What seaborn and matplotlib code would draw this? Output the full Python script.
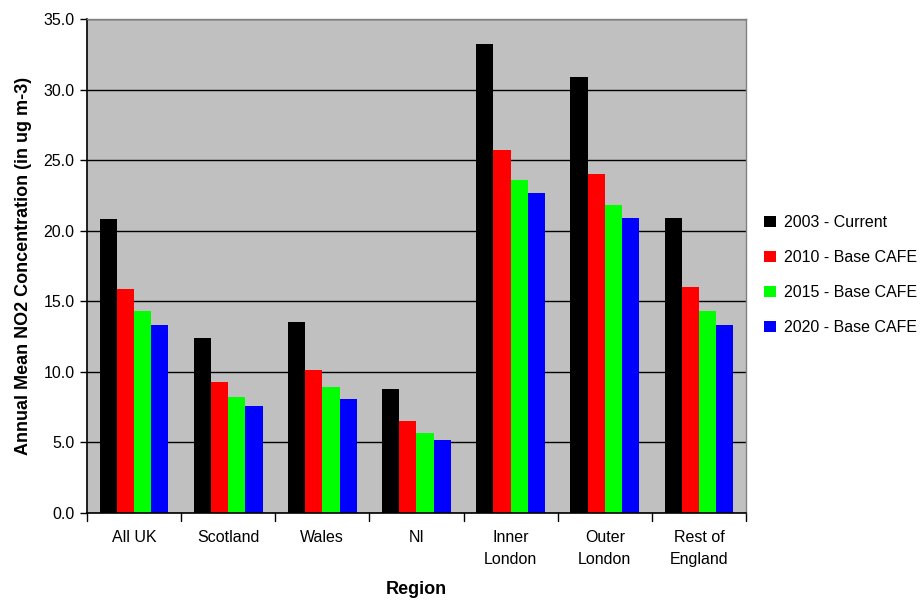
import matplotlib
matplotlib.use("Agg")
import matplotlib.pyplot as plt
import seaborn as sns
import pandas as pd
from matplotlib.patches import Patch

regions = ["All UK", "Scotland", "Wales", "NI", "Inner\nLondon", "Outer\nLondon", "Rest of\nEngland"]
series = ["2003 - Current", "2010 - Base CAFE", "2015 - Base CAFE", "2020 - Base CAFE"]
v2003 = [20.8, 12.4, 13.5, 8.8, 33.2, 30.9, 20.9]
v2010 = [15.9, 9.3, 10.1, 6.5, 25.7, 24.0, 16.0]
v2015 = [14.3, 8.2, 8.9, 5.7, 23.6, 21.8, 14.3]
v2020 = [13.3, 7.6, 8.1, 5.2, 22.7, 20.9, 13.3]
colors = ["#000000", "#FF0000", "#00FF00", "#0000FF"]

rows = []
for s, vals in zip(series, [v2003, v2010, v2015, v2020]):
    for r, v in zip(regions, vals):
        rows.append({"Region": r, "Series": s, "Value": v})
df = pd.DataFrame(rows)

sns.set_theme(style="white")
plt.rcParams["font.family"] = ["Liberation Sans", "DejaVu Sans"]
plt.rcParams["text.color"] = "black"
plt.rcParams["axes.labelcolor"] = "black"
plt.rcParams["xtick.color"] = "black"
plt.rcParams["ytick.color"] = "black"

fig = plt.figure(figsize=(9.24, 6.03), dpi=100)
ax = fig.add_axes([87/924, 1 - 513/603, (746-87)/924, (513-19)/603])
ax.set_facecolor("#C0C0C0")

sns.barplot(data=df, x="Region", y="Value", hue="Series", palette=colors,
            width=0.73, gap=0, saturation=1, ax=ax, legend=False,
            edgecolor="none", linewidth=0)

ax.set_ylim(0, 35)
ax.set_xlim(-0.5, 6.5)
ax.set_yticks([0, 5, 10, 15, 20, 25, 30, 35])
ax.set_yticklabels([f"{t:.1f}" for t in [0, 5, 10, 15, 20, 25, 30, 35]], fontsize=11.5)
ax.yaxis.grid(True, color="black", linewidth=1)
ax.set_axisbelow(True)
ax.tick_params(axis="y", length=5, width=1, color="black", labelcolor="black",
               direction="out", pad=4, left=True)
ax.set_xticks(range(7))
ax.set_xticklabels(regions, fontsize=11.5, linespacing=1.6)
ax.tick_params(axis="x", length=0, pad=12, labelcolor="black")
for b in [x + 0.5 for x in range(-1, 7)]:
    ax.plot([b, b], [0, -0.017], transform=ax.get_xaxis_transform(), color="black",
            lw=1, clip_on=False)

for side in ["left", "bottom"]:
    ax.spines[side].set_color("black")
    ax.spines[side].set_linewidth(1.2)
for side in ["top", "right"]:
    ax.spines[side].set_color("#808080")
    ax.spines[side].set_linewidth(1)

ax.set_xlabel("Region", fontsize=13, fontweight="bold", labelpad=10, color="black")
ax.set_ylabel("Annual Mean NO2 Concentration (in ug m-3)", fontsize=13,
              fontweight="bold", labelpad=8, color="black")

handles = [Patch(facecolor=c, edgecolor="none") for c in colors]
leg = fig.legend(handles, series, loc="upper left", bbox_to_anchor=(758/924, 1 - 209/603),
                 frameon=False, fontsize=11.5, handlelength=0.7, handleheight=0.7,
                 handletextpad=0.5, labelspacing=1.25, borderaxespad=0)
for t in leg.get_texts():
    t.set_color("black")

fig.savefig("out.png", dpi=100, facecolor="white")
